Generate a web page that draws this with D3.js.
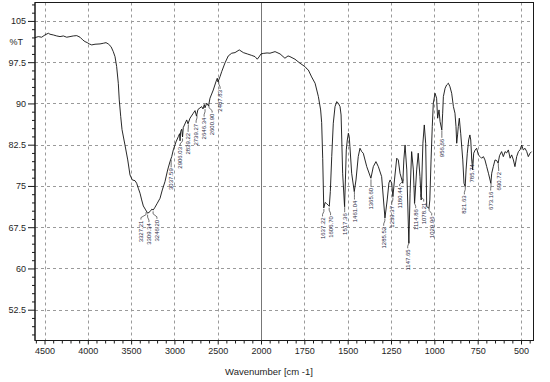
<!DOCTYPE html>
<html><head><meta charset="utf-8">
<script src="https://cdn.jsdelivr.net/npm/d3@7"></script>
<style>
html,body{margin:0;padding:0;background:#fff;}
svg{display:block;font-family:"Liberation Sans",Arial,sans-serif;}
</style></head>
<body><svg id="c" width="550" height="382"></svg>
<script>
// ---- data ----
const wavenumber = [4610,4572,4533,4495,4456,4437,4399,4359,4321,4283,4244,4206,4168,4128,4090,4059,4033,4006,3983,3955,3917,3859,3821,3790,3764,3732,3706,3686,3667,3648,3637,3620,3605,3571,3539,3513,3486,3455,3436,3417,3397,3378,3359,3332,3309,3282,3262,3244,3224,3198,3166,3140,3109,3078,3051,3031,3013,2982,2955,2940,2935,2928,2916,2906,2898,2858,2843,2820,2782,2762,2745,2728,2685,2670,2655,2647,2627,2606,2589,2551,2520,2505,2497,2473,2454,2416,2378,2338,2300,2251,2204,2158,2107,2069,2043,2023,2000,1987,1965,1948,1919,1890,1862,1844,1833,1804,1775,1746,1735,1727,1708,1688,1669,1656,1650,1644,1638,1630,1622,1612,1606,1600,1592,1583,1573,1563,1554,1544,1538,1534,1529,1518,1513,1508,1502,1496,1491,1487,1477,1462,1452,1439,1429,1419,1410,1390,1366,1352,1337,1323,1304,1298,1285,1272,1262,1255,1246,1239,1230,1217,1208,1198,1182,1176,1169,1159,1147,1140,1131,1121,1114,1102,1093,1083,1076,1066,1058,1050,1044,1031,1026,1019,1012,1006,996,987,981,973,967,957,952,948,938,929,919,910,900,890,881,875,871,866,862,856,848,836,829,822,817,810,802,795,790,784,779,773,765,756,746,736,727,717,708,698,688,674,669,660,650,640,632,624,612,602,592,583,573,563,554,544,535,525,515,506,496,487,477,467,458,448,439];
const transmittance = [101.96,102.15,102.04,102.45,102.76,102.58,102.45,102.27,102.15,102.27,102.04,102.15,102.27,102.33,102.04,101.55,101.24,101.05,100.82,100.64,100.76,100.82,100.94,101.05,100.82,100.33,99.42,98.51,96.70,93.67,90.64,87.60,85.24,82.45,79.73,77.0,76.09,75.96,75.49,74.58,73.67,72.45,71.36,70.64,70.04,70.33,70.76,70.64,71.13,71.85,72.76,74.27,75.78,77.91,79.42,80.33,81.55,83.0,83.96,84.5,83.2,84.9,85.31,83.9,85.6,87.0,86.3,87.31,88.22,88.69,87.7,88.9,89.42,89.0,89.8,89.2,90.04,89.55,90.95,92.45,93.96,94.58,93.9,94.87,95.78,97.36,98.64,99.13,99.24,99.73,99.24,99.0,98.73,98.51,98.04,98.45,99.0,99.09,99.18,99.13,99.42,99.0,98.22,98.64,98.51,98.04,97.31,96.69,96.27,96.09,94.82,93.67,91.24,88.82,86.5,80.0,71.0,72.0,71.8,71.5,71.3,74.0,80.33,86.4,89.42,90.33,90.04,89.42,87.9,83.36,77.31,71.24,76.09,81.55,83.36,84.58,83.96,82.15,77.31,73.96,76.09,80.33,81.85,81.24,80.95,78.51,76.4,78.51,79.42,78.51,76.69,74.27,69.18,72.45,75.55,76.09,75.49,73.05,76.09,80.04,79.73,77.31,75.49,79.73,82.45,77.91,64.58,73.67,81.24,77.91,71.85,77.91,80.95,76.69,72.45,82.76,86.09,82.76,71.24,70.95,72.45,79.73,85.78,90.04,91.85,90.95,87.31,88.82,86.69,85.18,88.22,91.24,92.76,93.36,93.67,93.05,91.85,89.42,88.22,85.78,82.76,84.27,85.78,87.31,84.58,79.73,75.49,74.87,77.91,80.95,83.36,84.27,83.36,79.73,77.91,80.95,81.5,81.85,80.64,80.33,80.04,80.33,79.73,78.51,77.31,75.49,77.31,78.51,79.73,79.6,79.13,80.5,81.24,80.33,81.24,81.0,81.55,80.04,80.64,79.73,78.51,80.33,81.24,81.55,82.45,81.55,81.85,81.24,80.33,80.95,81.24];
const peakLabels = ["3327.21","3309.34","3246.20","3037.59","2906.03","2839.22","2739.27","2646.34","2600.90","2487.83","1637.22","1606.70","1517.36","1461.04","1365.60","1285.52","1239.37","1180.44","1147.65","1114.86","1078.21","1029.96","956.66","821.63","785.74","673.16","630.72"];
const yTickValues = [52.5,60,67.5,75,82.5,90,97.5,105];
const xTickValues = [4500,4000,3500,3000,2500,2000,1750,1500,1250,1000,750,500];
const yLabel = "%T";
const xTitle = "Wavenumber [cm -1]";

// ---- scales ----
const L = 35, R = 533.5, T = 2.5, B = 340.5;
const x = d3.scaleLinear().domain([4610, 2000, 428]).range([L, 261, R]);
const y = d3.scaleLinear().domain([46.9, 108.35]).range([B, T]);

const svg = d3.select("#c");
const ink = "#1a1a1a";

// minor ticks
const yMinor = d3.range(48, 108.1, 1.5);
const xMinor = d3.range(4600, 2000, -100).concat(d3.range(2000, 449, -50));

// grid
const grid = svg.append("g");
grid.selectAll("line.h").data(yTickValues).join("line")
  .attr("x1", L).attr("x2", R).attr("y1", d => Math.round(y(d)) + 0.5).attr("y2", d => Math.round(y(d)) + 0.5)
  .attr("stroke", "#9a9a9a").attr("stroke-width", 1).attr("stroke-dasharray", "3,3");
grid.selectAll("line.v").data(xTickValues.filter(d => d !== 2000)).join("line")
  .attr("y1", T).attr("y2", B).attr("x1", d => Math.round(x(d)) + 0.5).attr("x2", d => Math.round(x(d)) + 0.5)
  .attr("stroke", "#9a9a9a").attr("stroke-width", 1).attr("stroke-dasharray", "3,3");
grid.append("line").attr("y1", T).attr("y2", B)
  .attr("x1", Math.round(x(2000)) + 0.5).attr("x2", Math.round(x(2000)) + 0.5)
  .attr("stroke", "#777").attr("stroke-width", 1);

// frame
svg.append("rect").attr("x", L).attr("y", T).attr("width", R - L).attr("height", B - T)
  .attr("fill", "none").attr("stroke", ink).attr("stroke-width", 1);

// axes
const yAxis = d3.axisLeft(y).tickValues(yTickValues).tickSize(7).tickPadding(2)
  .tickFormat(d => String(d));
const gy = svg.append("g").attr("transform", `translate(${L},0)`).call(yAxis);
const gyMinor = svg.append("g").attr("transform", `translate(${L},0)`)
  .call(d3.axisLeft(y).tickValues(yMinor.filter(v => !yTickValues.includes(v))).tickSize(3).tickFormat(""));
const xAxis = d3.axisBottom(x).tickValues(xTickValues).tickSize(4).tickPadding(3).tickFormat(d => String(d));
const gx = svg.append("g").attr("transform", `translate(0,${B})`).call(xAxis);
const gxMinor = svg.append("g").attr("transform", `translate(0,${B})`)
  .call(d3.axisBottom(x).tickValues(xMinor.filter(v => !xTickValues.includes(v))).tickSize(3).tickFormat(""));
[gy, gyMinor, gx, gxMinor].forEach(g => {
  g.select(".domain").remove();
  g.selectAll("line").attr("stroke", ink);
  g.selectAll("text").attr("fill", "#1e1e1e").style("font-size", "9px")
    .style("font-family", '"Liberation Sans",Arial,sans-serif');
});
svg.append("line").attr("x1", L).attr("x2", R).attr("y1", B).attr("y2", B).attr("stroke", ink);
svg.append("line").attr("x1", L).attr("x2", L).attr("y1", T).attr("y2", B).attr("stroke", ink);

svg.append("text").attr("x", 23).attr("y", 45).attr("text-anchor", "end")
  .attr("fill", "#1e1e1e").style("font-size", "9px").text(yLabel);
svg.append("text").attr("x", 269).attr("y", 375).attr("text-anchor", "middle")
  .attr("fill", "#1e1e1e").style("font-size", "9.5px").text(xTitle);

// spectrum
const pts = wavenumber.map((w, i) => [w, transmittance[i]]);
svg.append("path").datum(pts)
  .attr("d", d3.line().x(d => x(d[0])).y(d => y(d[1])))
  .attr("fill", "none").attr("stroke", "#111").attr("stroke-width", 0.9).attr("stroke-linejoin", "round");

// peak labels
function tAt(w) {
  for (let i = 0; i < wavenumber.length - 1; i++) {
    const a = wavenumber[i], b = wavenumber[i + 1];
    if (w <= a && w >= b) {
      const t = (a - w) / (a - b);
      return transmittance[i] + t * (transmittance[i + 1] - transmittance[i]);
    }
  }
  return transmittance[transmittance.length - 1];
}
const lab = peakLabels.map(s => {
  const w = parseFloat(s);
  const px = x(w), py = y(tAt(w));
  return { s, px, py, tx: px, ty: py + 10 };
}).sort((a, b) => a.px - b.px);
const gap = 8;
for (let it = 0; it < 60; it++) {
  for (let i = 0; i < lab.length - 1; i++) {
    const a = lab[i], b = lab[i + 1];
    const d = b.tx - a.tx;
    if (d < gap) { const m = (gap - d) / 2; a.tx -= m; b.tx += m; }
  }
}
const gl = svg.append("g");
lab.forEach(l => {
  gl.append("polyline")
    .attr("points", `${l.px},${l.py + 1.5} ${l.px},${l.py + 4} ${l.tx},${l.ty - 3} ${l.tx},${l.ty - 1}`)
    .attr("fill", "none").attr("stroke", "#333").attr("stroke-width", 0.7);
  gl.append("text")
    .attr("transform", `translate(${l.tx},${l.ty}) rotate(-90)`)
    .attr("text-anchor", "end").attr("dy", "0.35em")
    .attr("fill", "#2a2a45").style("font-size", "6px").text(l.s);
});
</script></body></html>
